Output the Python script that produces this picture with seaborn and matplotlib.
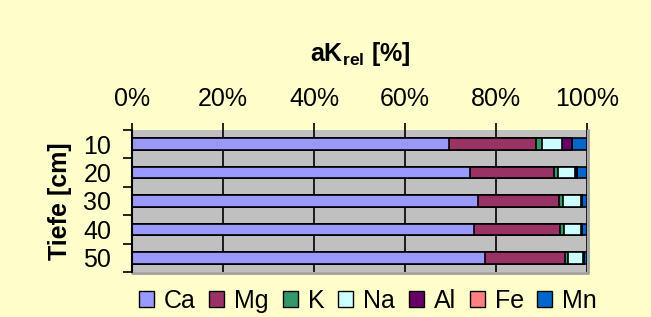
import matplotlib
matplotlib.use("Agg")
import matplotlib.pyplot as plt
import seaborn as sns
import pandas as pd
import numpy as np
from matplotlib.patches import Patch

depths = ["10", "20", "30", "40", "50"]
elements = ["Ca", "Mg", "K", "Na", "Al", "Fe", "Mn"]
Ca = [69.6, 74.3, 76.0, 75.1, 77.5]
Mg = [19.3, 18.5, 17.9, 19.0, 17.7]
K = [1.3, 0.8, 0.9, 0.9, 0.6]
Na = [4.3, 3.8, 3.8, 3.7, 3.3]
Al = [2.3, 0.5, 0.3, 0.2, 0.2]
Fe = [0.0, 0.0, 0.0, 0.0, 0.0]
Mn = [3.2, 2.1, 1.1, 1.1, 0.7]
colors = ["#9999FF", "#993366", "#339966", "#CCFFFF", "#660066", "#FF8080", "#0066CC"]
xticks = [0, 20, 40, 60, 80, 100]

sns.set_theme(style="white")
plt.rcParams["font.family"] = ["Liberation Sans", "DejaVu Sans"]
plt.rcParams["text.color"] = "black"
plt.rcParams["xtick.color"] = "black"
plt.rcParams["ytick.color"] = "black"
plt.rcParams["axes.labelcolor"] = "black"
plt.rcParams["mathtext.fontset"] = "custom"
plt.rcParams["mathtext.rm"] = "Liberation Sans"
plt.rcParams["mathtext.bf"] = "Liberation Sans:bold"

FS = 18

fig = plt.figure(figsize=(6.51, 3.17), dpi=100)
fig.patch.set_facecolor("#FFFFCC")
ax = fig.add_axes([132/651, 1-272/317, 455/651, 142/317])
ax.set_facecolor("#C0C0C0")

series = [Ca, Mg, K, Na, Al, Fe, Mn]
vals = np.array(series, dtype=float)
cum = np.cumsum(vals, axis=0)
cum = cum / cum[-1] * 100.0

for i in range(len(elements) - 1, -1, -1):
    df = pd.DataFrame({"depth": depths, "value": cum[i]})
    sns.barplot(data=df, x="value", y="depth", orient="h", color=colors[i],
                saturation=1, width=0.41, edgecolor="black", linewidth=1.2,
                ax=ax, zorder=3)

ax.set_xlim(0, 100)
ax.set_ylim(len(depths) - 0.5, -0.5)

for xv in xticks[1:]:
    ax.axvline(xv, color="black", lw=1.2, zorder=1)

ax.xaxis.tick_top()
ax.set_xticks(xticks)
ax.set_xticklabels([f"{v}%" for v in xticks], fontsize=FS)
ax.tick_params(axis="x", which="major", direction="out", length=5, width=1.2,
               color="black", labelcolor="black", pad=9, top=True, bottom=False)
ax.set_xlabel("")

ax.set_yticks(range(len(depths)))
ax.set_yticklabels(depths, fontsize=FS)
ax.tick_params(axis="y", which="major", length=0, pad=15, labelcolor="black")
ax.set_yticks(np.arange(-0.5, len(depths), 1.0), minor=True)
ax.tick_params(axis="y", which="minor", direction="out", length=6.5, width=1.2,
               color="black", left=True)
ax.set_ylabel("Tiefe [cm]", fontsize=FS, fontweight="bold", labelpad=8, color="black")

for s in ["top", "right", "bottom"]:
    ax.spines[s].set_visible(False)
ax.spines["left"].set_color("black")
ax.spines["left"].set_linewidth(1.5)
ax.spines["left"].set_zorder(5)

ax.plot([1.003, 1.003], [0, 1], transform=ax.transAxes, color="#A0A0A0", lw=2, clip_on=False)
ax.plot([0, 1.003], [-0.004, -0.004], transform=ax.transAxes, color="#A0A0A0", lw=2, clip_on=False)

fig.text(360/651, 1-54/317, r"aK$_{\mathbf{rel}}$ [%]", ha="center", va="center",
         fontsize=FS, fontweight="bold", color="black")

handles = [Patch(facecolor=c, edgecolor="black", linewidth=1.0) for c in colors]
fig.legend(handles, elements, loc="center", bbox_to_anchor=(368/651, 1-301/317),
           ncol=7, frameon=False, fontsize=FS, handlelength=0.6, handleheight=0.6,
           handletextpad=0.4, columnspacing=0.55, borderaxespad=0, borderpad=0,
           labelcolor="black")

fig.savefig("out.png", dpi=100, facecolor=fig.get_facecolor())
